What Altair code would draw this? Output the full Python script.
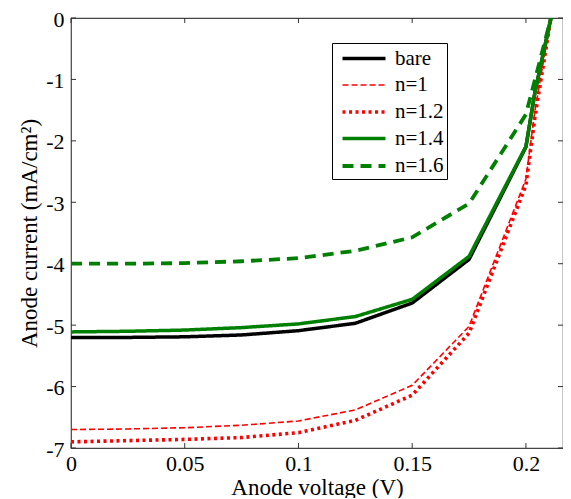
import altair as alt
import pandas as pd

voltage = [0, 0.025, 0.05, 0.075, 0.1, 0.125, 0.15, 0.175, 0.2, 0.204, 0.211]
bare  = [-5.20, -5.20, -5.19, -5.16, -5.09, -4.97, -4.64, -3.93, -2.10, -1.20, 0]
n1    = [-6.70, -6.69, -6.67, -6.63, -6.56, -6.38, -5.98, -5.02, -2.62, -1.50, 0]
n12   = [-6.90, -6.88, -6.86, -6.83, -6.75, -6.55, -6.14, -5.13, -2.72, -1.60, 0]
n14   = [-5.11, -5.10, -5.08, -5.04, -4.98, -4.86, -4.58, -3.88, -2.09, -1.20, 0]
n16   = [-4.00, -4.00, -3.99, -3.96, -3.91, -3.79, -3.57, -3.02, -1.57, -1.00, 0]

series_names = ["bare", "n=1", "n=1.2", "n=1.4", "n=1.6"]
series_vals = [bare, n1, n12, n14, n16]
colors = ["#000000", "#ff0000", "#ff0000", "#008000", "#008000"]
dashes = [[1, 0], [6, 3], [3, 3.5], [1, 0], [11, 7]]
widths = [3.5, 1.6, 3.6, 3.5, 3.8]

xticks = [0, 0.05, 0.1, 0.15, 0.2]
yticks = [-7, -6, -5, -4, -3, -2, -1, 0]
x_max = 0.2163
y_min, y_max = -7, 0

rows = []
for name, vals in zip(series_names, series_vals):
    for x, y in zip(voltage, vals):
        rows.append({"series": name, "V": x, "I": y})
df = pd.DataFrame(rows)

W, H = 492, 430
FONT = "Liberation Serif"

xscale = alt.Scale(domain=[0, x_max], nice=False, zero=False)
yscale = alt.Scale(domain=[y_min, y_max], nice=False, zero=False)

legend = alt.Legend(
    title=None, orient="none", legendX=261, legendY=25,
    fillColor="white", strokeColor="black", padding=3,
    symbolType="M-2,0L2,0", symbolSize=462, symbolOffset=16,
    labelFont=FONT, labelFontSize=21,
    labelColor="black", rowPadding=4, labelOffset=18,
)

lines = alt.Chart(df).mark_line(clip=True).encode(
    x=alt.X("V:Q", scale=xscale,
            axis=alt.Axis(values=xticks, labelExpr="'' + datum.value", title="Anode voltage (V)",
                          ticks=False, domain=False, grid=False, labelFlush=False,
                          labelPadding=5, titlePadding=2)),
    y=alt.Y("I:Q", scale=yscale,
            axis=alt.Axis(values=yticks, labelExpr="'' + datum.value", title="Anode current (mA/cm²)",
                          ticks=False, domain=False, grid=False, labelFlush=False,
                          labelPadding=7, titlePadding=4, labelOffset=1)),
    color=alt.Color("series:N", scale=alt.Scale(domain=series_names, range=colors), legend=legend),
    strokeDash=alt.StrokeDash("series:N", scale=alt.Scale(domain=series_names, range=dashes), legend=legend),
    strokeWidth=alt.StrokeWidth("series:N", scale=alt.Scale(type="ordinal", domain=series_names, range=widths), legend=legend),
    order=alt.Order("V:Q"),
)

xt = pd.DataFrame({"t": xticks})
yt = pd.DataFrame({"t": yticks})
tc = "#333333"
xb = alt.Chart(xt).mark_rule(color=tc, strokeWidth=1).encode(x=alt.X("t:Q", scale=xscale), y=alt.value(H), y2=alt.value(H - 5))
xtop = alt.Chart(xt).mark_rule(color=tc, strokeWidth=1).encode(x=alt.X("t:Q", scale=xscale), y=alt.value(0), y2=alt.value(5))
yl = alt.Chart(yt).mark_rule(color=tc, strokeWidth=1).encode(y=alt.Y("t:Q", scale=yscale), x=alt.value(0), x2=alt.value(5))
yr = alt.Chart(yt).mark_rule(color=tc, strokeWidth=1).encode(y=alt.Y("t:Q", scale=yscale), x=alt.value(W - 5), x2=alt.value(W))

chart = alt.layer(xb, xtop, yl, yr, lines).properties(
    width=W, height=H, background="white",
    autosize=alt.AutoSizeParams(type="none"),
    padding={"left": 63, "top": 10, "right": 0, "bottom": 50},
).configure_view(
    stroke="#444444", strokeWidth=1.2
).configure_axis(
    labelFont=FONT, titleFont=FONT, labelFontSize=22, titleFontSize=23,
    labelColor="black", titleColor="black", titleFontWeight="normal",
)

chart.save("out.html", embed_options={"renderer": "svg", "actions": False})
